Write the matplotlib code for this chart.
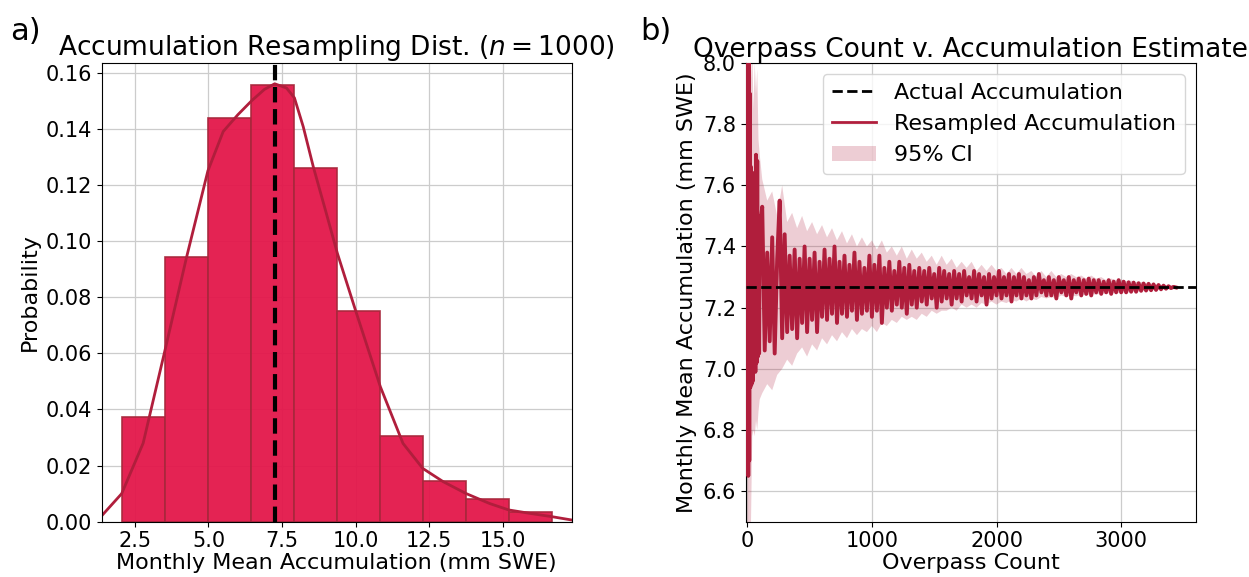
import matplotlib
matplotlib.use("Agg")
import matplotlib.pyplot as plt
import numpy as np

# --- panel a: resampling distribution ---
bin_edges = [2.05, 3.51, 4.98, 6.44, 7.90, 9.36, 10.83, 12.29, 13.75, 15.21, 16.68]
bin_probability = [0.0372, 0.0943, 0.1438, 0.1557, 0.1259, 0.0751, 0.0305, 0.0145, 0.0082, 0.0033]

kde_x = [1.37, 2.05, 2.78, 3.52, 4.25, 4.98, 5.50, 6.00, 6.47, 6.90, 7.25, 7.65, 7.92,
         8.22, 8.56, 9.00, 9.38, 10.03, 10.84, 11.61, 12.28, 12.97, 13.74, 14.55, 15.20,
         15.91, 16.67, 17.35]
kde_y = [0.0021, 0.0100, 0.0280, 0.0610, 0.0940, 0.1250, 0.1390, 0.1450, 0.1500, 0.1540,
         0.1560, 0.1545, 0.1510, 0.1407, 0.1265, 0.1100, 0.0956, 0.0742, 0.0481, 0.0279,
         0.0190, 0.0143, 0.0101, 0.0065, 0.0042, 0.0030, 0.0018, 0.0006]

actual_accumulation = 7.266

# --- panel b: overpass count vs estimate ---
early_counts = [1, 3, 5, 8, 12, 16, 20, 25, 30, 35, 40, 45, 50, 55, 60, 65, 70, 75, 80, 85, 90, 95, 100]
early_values = [7.84, 6.98, 8.12, 6.65, 8.05, 6.70, 7.90, 6.94, 7.66, 6.95, 7.62, 6.96,
                7.64, 7.00, 7.58, 6.99, 7.70, 7.02, 7.68, 7.04, 7.50, 7.05, 7.45]
# counts 120, 140, ... every 20
late_values = [
    7.53, 7.06, 7.38, 7.09, 7.43, 7.05, 7.36, 7.55, 7.10, 7.44,
    7.12, 7.37, 7.13, 7.39, 7.10, 7.36, 7.15, 7.40, 7.12, 7.36,
    7.16, 7.38, 7.12, 7.35, 7.17, 7.39, 7.16, 7.36, 7.18, 7.40,
    7.15, 7.35, 7.18, 7.37, 7.17, 7.34, 7.19, 7.38, 7.16, 7.35,
    7.18, 7.33, 7.19, 7.37, 7.17, 7.34, 7.19, 7.37, 7.15, 7.33,
    7.20, 7.35, 7.19, 7.32, 7.21, 7.35, 7.20, 7.33, 7.18, 7.34,
    7.21, 7.32, 7.20, 7.33, 7.22, 7.32, 7.21, 7.33, 7.23, 7.31,
    7.20, 7.33, 7.22, 7.32, 7.23, 7.31, 7.21, 7.32, 7.23, 7.31,
    7.22, 7.32, 7.24, 7.30, 7.23, 7.32, 7.22, 7.31, 7.24, 7.30,
    7.21, 7.31, 7.23, 7.30, 7.24, 7.32, 7.23, 7.30, 7.24, 7.31,
    7.22, 7.30, 7.24, 7.31, 7.23, 7.30, 7.24, 7.29, 7.23, 7.30,
    7.24, 7.31, 7.25, 7.29, 7.24, 7.30, 7.24, 7.29, 7.23, 7.30,
    7.25, 7.29, 7.24, 7.30, 7.23, 7.29, 7.25, 7.295, 7.24, 7.29,
    7.245, 7.295, 7.24, 7.29, 7.25, 7.29, 7.245, 7.285, 7.25, 7.29,
    7.245, 7.285, 7.25, 7.29, 7.25, 7.285, 7.25, 7.283, 7.252, 7.282,
    7.252, 7.280, 7.255, 7.279, 7.256, 7.278, 7.257, 7.276, 7.258, 7.274,
    7.260, 7.272, 7.262, 7.270, 7.264, 7.268, 7.266,
]

ci_early_counts = [1, 5, 10, 15, 20, 30, 40, 50, 60, 70, 80, 90, 100]
ci_early_upper = [8.30, 8.30, 8.30, 8.20, 8.10, 7.95, 8.05, 7.85, 8.00, 7.90, 7.98, 7.75, 7.70]
ci_early_lower = [6.30, 6.30, 6.35, 6.40, 6.45, 6.50, 6.78, 6.80, 6.78, 6.83, 6.80, 6.86, 6.90]
# counts 120, 160, ... every 40
ci_late_upper = [
    7.62, 7.55, 7.58, 7.50, 7.60, 7.48, 7.51, 7.46, 7.50, 7.45,
    7.48, 7.44, 7.47, 7.43, 7.46, 7.42, 7.45, 7.41, 7.44, 7.40,
    7.43, 7.40, 7.42, 7.39, 7.42, 7.38, 7.40, 7.37, 7.40, 7.36,
    7.39, 7.36, 7.38, 7.35, 7.37, 7.34, 7.37, 7.34, 7.36, 7.33,
    7.35, 7.33, 7.35, 7.32, 7.34, 7.32, 7.34, 7.32, 7.33, 7.31,
    7.33, 7.31, 7.33, 7.31, 7.32, 7.30, 7.32, 7.30, 7.32, 7.30,
    7.31, 7.30, 7.31, 7.30, 7.305, 7.295, 7.305, 7.295, 7.30, 7.29,
    7.295, 7.29, 7.292, 7.287, 7.288, 7.284, 7.284, 7.280, 7.279, 7.276,
    7.274, 7.271, 7.269, 7.267,
]
ci_late_lower = [
    6.92, 6.95, 6.93, 6.98, 7.00, 7.03, 7.01, 7.05, 7.07, 7.04,
    7.08, 7.06, 7.10, 7.08, 7.11, 7.09, 7.12, 7.10, 7.13, 7.11,
    7.13, 7.12, 7.14, 7.12, 7.15, 7.14, 7.16, 7.15, 7.17, 7.16,
    7.17, 7.16, 7.18, 7.17, 7.19, 7.18, 7.19, 7.19, 7.20, 7.19,
    7.21, 7.20, 7.21, 7.20, 7.215, 7.21, 7.22, 7.21, 7.22, 7.215,
    7.225, 7.22, 7.23, 7.22, 7.23, 7.225, 7.235, 7.23, 7.235, 7.23,
    7.24, 7.235, 7.24, 7.237, 7.243, 7.24, 7.245, 7.242, 7.247, 7.245,
    7.249, 7.247, 7.25, 7.249, 7.252, 7.252, 7.254, 7.255, 7.257, 7.258,
    7.26, 7.262, 7.264, 7.265,
]

counts = early_counts + list(range(120, 120 + 20 * len(late_values), 20))
values = early_values + late_values
ci_counts = ci_early_counts + list(range(120, 120 + 40 * len(ci_late_upper), 40))
ci_upper = ci_early_upper + ci_late_upper
ci_lower = ci_early_lower + ci_late_lower

bar_color = "#e3174a"
line_color = "#b01e3c"

fig = plt.figure(figsize=(12.49, 5.77), dpi=100)
ax1 = fig.add_axes([0.0814, 0.0958, 0.3765, 0.795])
ax2 = fig.add_axes([0.597, 0.0958, 0.3605, 0.795])

# panel a
ax1.set_axisbelow(True)
ax1.grid(True, color="#cccccc", linewidth=0.9)
ax1.bar(bin_edges[:-1], bin_probability, width=np.diff(bin_edges), align="edge",
        color=bar_color, edgecolor="#a8283c", linewidth=1.2, alpha=0.95)
ax1.plot(kde_x, kde_y, color=line_color, linewidth=2)
ax1.axvline(actual_accumulation, color="black", linestyle="--", linewidth=3)
ax1.set_xlim(1.37, 17.35)
ax1.set_ylim(0, 0.1634)
ax1.set_xticks([2.5, 5.0, 7.5, 10.0, 12.5, 15.0])
ax1.set_yticks(np.arange(0, 0.161, 0.02))
ax1.set_yticklabels([f"{t:.2f}" for t in np.arange(0, 0.161, 0.02)])
ax1.tick_params(labelsize=15)
ax1.set_xlabel("Monthly Mean Accumulation (mm SWE)", fontsize=16, labelpad=1)
ax1.set_ylabel("Probability", fontsize=16)
ax1.set_title(r"Accumulation Resampling Dist. ($n = 1000$)", fontsize=19, pad=4)
fig.text(0.008, 0.93, "a)", fontsize=22)

# panel b
ax2.set_axisbelow(True)
ax2.grid(True, color="#cccccc", linewidth=0.9)
ax2.fill_between(ci_counts, ci_lower, ci_upper, color=line_color, alpha=0.22,
                 linewidth=0, label="95% CI", zorder=2)
ax2.plot(counts, values, color=line_color, linewidth=2.8, label="Resampled Accumulation", zorder=3)
ax2.axhline(actual_accumulation, color="black", linestyle="--", linewidth=2,
            label="Actual Accumulation", zorder=4)
ax2.set_xlim(-13, 3600)
ax2.set_ylim(6.5, 8.0)
ax2.set_xticks([0, 1000, 2000, 3000])
ax2.set_yticks(np.arange(6.6, 8.01, 0.2))
ax2.tick_params(labelsize=15)
ax2.set_xlabel("Overpass Count", fontsize=16, labelpad=1)
ax2.set_ylabel("Monthly Mean Accumulation (mm SWE)", fontsize=16)
ax2.set_title("Overpass Count v. Accumulation Estimate", fontsize=19, pad=4)
handles, labels = ax2.get_legend_handles_labels()
order = [2, 1, 0]
leg = ax2.legend([handles[i] for i in order], [labels[i] for i in order],
                 loc="upper right", fontsize=16, framealpha=0.8)
for h in leg.get_lines():
    h.set_linewidth(2)
fig.text(0.513, 0.93, "b)", fontsize=22)

plt.savefig("out.png", dpi=100)
